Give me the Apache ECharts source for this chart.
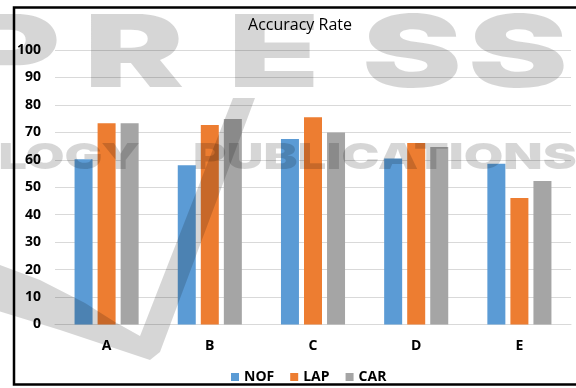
<!DOCTYPE html>
<html>
<head>
<meta charset="utf-8">
<title>Accuracy Rate</title>
<script src="https://cdn.jsdelivr.net/npm/echarts/dist/echarts.min.js"></script>
<style>
	html, body { margin: 0; padding: 0; background: #fff; }
	#chart { width: 576px; height: 388px; }
</style>
</head>
<body>
<div id="chart"></div>
<script>
// 类别与各方法的精度数据
var categories = ['A', 'B', 'C', 'D', 'E'];
var nofData = [60.2, 58.0, 67.6, 60.5, 58.6];
var lapData = [73.3, 72.7, 75.5, 66.1, 46.1];
var carData = [73.3, 74.9, 69.9, 64.7, 52.3];
var seriesNames = ['NOF', 'LAP', 'CAR'];
var seriesColors = ['#5B9BD5', '#ED7D31', '#A5A5A5'];

var labelFont = '"Open Sans", "Liberation Sans", sans-serif';
var markColor = 'rgba(0,0,0,0.16)';
var markFont = '"Inter", "DejaVu Sans", sans-serif';

/**
 * 背景水印（出版社水印）
 */
function buildWatermark(){
	var items = [];
	var letters = ['P', 'R', 'E', 'S', 'S'];
	var letterX = [-38, 84, 228, 362, 468];
	for (var i = 0; i < letters.length; i++) {
		items.push({
			type: 'text',
			x: letterX[i],
			y: 57,
			scaleX: 1.5,
			z: 100,
			silent: true,
			style: {
				text: letters[i],
				font: '900 100px ' + markFont,
				fill: markColor,
				textVerticalAlign: 'middle'
			}
		});
	}
	items.push({
		type: 'text', x: 140, y: 158, scaleX: 1.4, z: 100, silent: true,
		style: {
			text: 'OLOGY', font: '900 36px ' + markFont, fill: markColor,
			textAlign: 'right', textVerticalAlign: 'middle'
		}
	});
	items.push({
		type: 'text', x: 193, y: 158, scaleX: 1.42, z: 100, silent: true,
		style: {
			text: 'PUBLICATIONS', font: '900 36px ' + markFont, fill: markColor,
			textVerticalAlign: 'middle'
		}
	});
	// 对勾形状
	items.push({
		type: 'polygon', z: 100, silent: true,
		shape: {
			points: [[-5, 263], [40, 280], [85, 303], [115, 322], [140, 336], [233, 98], [255, 98],
				[160, 352], [150, 360], [120, 350], [60, 330], [-5, 310]]
		},
		style: { fill: markColor }
	});
	return items;
}

function initChart(){
	var myChart = echarts.init(document.getElementById('chart'));
	var dataList = [nofData, lapData, carData];
	var seriesData = [];
	for (var i = 0; i < seriesNames.length; i++) {
		seriesData.push({
			name: seriesNames[i],
			type: 'bar',
			data: dataList[i],
			barWidth: 18,
			barGap: '28%',
			itemStyle: { color: seriesColors[i] }
		});
	}
	var graphics = buildWatermark();
	// 外边框
	graphics.push({
		type: 'rect', z: 90, silent: true,
		shape: { x: 14, y: 7.5, width: 620, height: 377 },
		style: { fill: null, stroke: '#000', lineWidth: 2.5 }
	});

	var option = {
		animation: false,
		backgroundColor: '#fff',
		title: {
			text: 'Accuracy Rate',
			left: 295,
			textAlign: 'center',
			top: 12,
			textStyle: {
				fontFamily: labelFont,
				fontSize: 16,
				fontWeight: 'normal',
				color: '#000'
			}
		},
		legend: {
			data: seriesNames,
			left: 226,
			top: 365,
			icon: 'rect',
			itemWidth: 8,
			itemHeight: 8,
			itemGap: 16,
			textStyle: {
				fontFamily: labelFont,
				fontSize: 14,
				fontWeight: 'bold',
				color: '#000'
			}
		},
		grid: {
			left: 55,
			right: 5,
			top: 50,
			bottom: 63.5
		},
		xAxis: {
			type: 'category',
			data: categories,
			axisTick: { show: false },
			axisLine: { lineStyle: { color: '#d9d9d9', width: 1 } },
			axisLabel: {
				margin: 15,
				fontFamily: labelFont,
				fontSize: 14,
				fontWeight: 'bold',
				color: '#000'
			}
		},
		yAxis: {
			type: 'value',
			min: 0,
			max: 100,
			interval: 10,
			axisLine: { show: false },
			axisTick: { show: false },
			splitLine: { lineStyle: { color: '#d9d9d9', width: 1 } },
			axisLabel: {
				margin: 14,
				fontFamily: labelFont,
				fontSize: 14,
				fontWeight: 'bold',
				color: '#000'
			}
		},
		graphic: graphics,
		series: seriesData
	};
	myChart.setOption(option);
}

initChart();
</script>
</body>
</html>
